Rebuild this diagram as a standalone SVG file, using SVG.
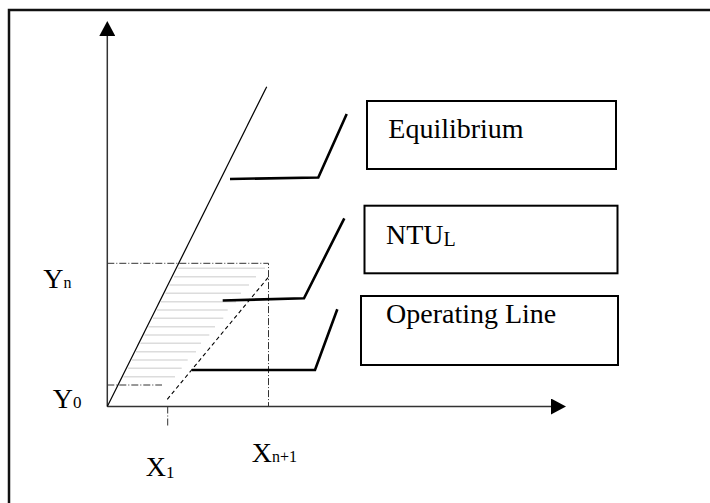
<svg xmlns="http://www.w3.org/2000/svg" width="710" height="503" viewBox="0 0 710 503">
<style>
.t{font-family:"Liberation Serif","Times New Roman",serif;fill:#000}
.box{fill:#fff;stroke:#000;stroke-width:2}
.call{fill:none;stroke:#000;stroke-width:2.6;stroke-linejoin:miter}
.axis{stroke:#333;stroke-width:1.5;fill:none}
.dd{stroke:#333;stroke-width:1;fill:none;stroke-dasharray:7 2 1 2}
.hatch{stroke:#dcdcdc;stroke-width:1.6}
</style>
<defs>
<marker id="ah" markerWidth="16" markerHeight="16" viewBox="0 0 16 16" refX="1" refY="8" orient="auto" markerUnits="userSpaceOnUse">
<path d="M0,0 L15,8 L0,16 Z" fill="#000"/>
</marker>
</defs>
<rect width="710" height="503" fill="#fff"/>
<path d="M9,503 V10 H710" fill="none" stroke="#111" stroke-width="2.5"/>

<g id="axes">
<line class="axis" x1="107.3" y1="406.5" x2="107.3" y2="35" marker-end="url(#ah)"/>
<line class="axis" x1="107.3" y1="406.5" x2="552" y2="406.5" marker-end="url(#ah)"/>
</g>

<g id="hatching">
<line class="hatch" x1="178" y1="268.3" x2="265" y2="268.3"/>
<line class="hatch" x1="174" y1="276.7" x2="256" y2="276.7"/>
<line class="hatch" x1="169.5" y1="285" x2="249" y2="285"/>
<line class="hatch" x1="165.5" y1="293.3" x2="241" y2="293.3"/>
<line class="hatch" x1="161" y1="301.7" x2="236" y2="301.7"/>
<line class="hatch" x1="157" y1="310" x2="227.7" y2="310"/>
<line class="hatch" x1="153" y1="318.3" x2="223.3" y2="318.3"/>
<line class="hatch" x1="148.5" y1="326.7" x2="215" y2="326.7"/>
<line class="hatch" x1="144.5" y1="335" x2="209.3" y2="335"/>
<line class="hatch" x1="140.5" y1="343.3" x2="201" y2="343.3"/>
<line class="hatch" x1="136" y1="351.7" x2="196" y2="351.7"/>
<line class="hatch" x1="132" y1="360" x2="187.7" y2="360"/>
<line class="hatch" x1="128" y1="368.3" x2="181.7" y2="368.3"/>
<line class="hatch" x1="123.5" y1="376.7" x2="175" y2="376.7"/>
</g>

<g id="guides">
<path class="dd" d="M107.3,263.3 H268.5 V406.5"/>
<line class="dd" x1="107.3" y1="385" x2="162" y2="385"/>
<line class="dd" x1="167.7" y1="406.5" x2="167.7" y2="427"/>
</g>

<g id="curves">
<line x1="107.3" y1="406.5" x2="266.7" y2="86.7" stroke="#000" stroke-width="1.2"/>
<line x1="167.3" y1="399.3" x2="268.3" y2="277.3" stroke="#000" stroke-width="1.1" stroke-dasharray="4 3"/>
</g>

<g id="connectors">
<polyline class="call" points="230,179 318.3,177.5 346.7,114"/>
<polyline class="call" points="222.7,300.5 304,298.3 344.3,218.3"/>
<polyline class="call" points="191.7,370 315,370 337.3,309.3"/>
</g>

<g id="node-equilibrium">
<rect class="box" x="367" y="101" width="249" height="68"/>
<text class="t" x="388.3" y="138.3" font-size="28">Equilibrium</text>
</g>
<g id="node-ntu">
<rect class="box" x="364.5" y="205.7" width="253" height="67.6"/>
<text class="t" x="386" y="244" font-size="28">NTU<tspan font-size="20" dy="1.7">L</tspan></text>
</g>
<g id="node-operating">
<rect class="box" x="361" y="296" width="257" height="69"/>
<text class="t" x="386" y="323.3" font-size="28">Operating Line</text>
</g>

<g id="labels">
<text class="t" x="43.3" y="288.3" font-size="28">Y<tspan font-size="16">n</tspan></text>
<text class="t" x="52.7" y="408.3" font-size="28">Y<tspan font-size="17">0</tspan></text>
<text class="t" x="145.7" y="476" font-size="28">X<tspan font-size="17" dy="2">1</tspan></text>
<text class="t" x="251.7" y="461.7" font-size="28">X<tspan font-size="16">n+1</tspan></text>
</g>
</svg>
